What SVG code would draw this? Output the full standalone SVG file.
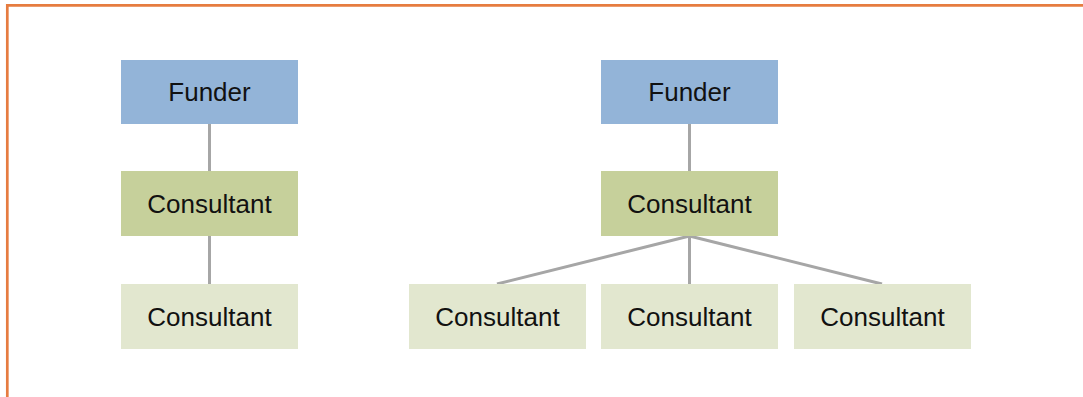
<svg xmlns="http://www.w3.org/2000/svg" width="1083" height="397" viewBox="0 0 1083 397">
  <style>
    .frame { stroke: #e67c40; stroke-width: 2.7; fill: none; }
    .link { stroke: #a6a6a6; stroke-width: 3; fill: none; }
    .funder { fill: #93b4d8; }
    .lead { fill: #c6d09b; }
    .sub { fill: #e2e7cf; }
    .label { font-family: "Liberation Sans", Arial, sans-serif; font-size: 26px; fill: #111; text-anchor: middle; }
  </style>
  <rect width="1083" height="397" fill="#ffffff"/>
  <!-- orange frame: top and left edges -->
  <path class="frame" d="M7.3 397 V5.3 H1083"/>

  <g id="connectors">
    <line class="link" x1="209.5" y1="124" x2="209.5" y2="171"/>
    <line class="link" x1="209.5" y1="236" x2="209.5" y2="284"/>
    <line class="link" x1="689.5" y1="124" x2="689.5" y2="171"/>
    <line class="link" x1="689.5" y1="236" x2="497" y2="284"/>
    <line class="link" x1="689.5" y1="236" x2="689.5" y2="284"/>
    <line class="link" x1="689.5" y1="236" x2="882" y2="284"/>
  </g>

  <!-- single chain -->
  <g id="funder-left">
    <rect class="funder" x="121" y="60" width="177" height="64"/>
    <text class="label" x="209.5" y="101">Funder</text>
  </g>
  <g id="consultant-left">
    <rect class="lead" x="121" y="171" width="177" height="65"/>
    <text class="label" x="209.5" y="213">Consultant</text>
  </g>
  <g id="subconsultant-left">
    <rect class="sub" x="121" y="284" width="177" height="65"/>
    <text class="label" x="209.5" y="326">Consultant</text>
  </g>

  <!-- lead consultant with three subconsultants -->
  <g id="funder-right">
    <rect class="funder" x="601" y="60" width="177" height="64"/>
    <text class="label" x="689.5" y="101">Funder</text>
  </g>
  <g id="consultant-right">
    <rect class="lead" x="601" y="171" width="177" height="65"/>
    <text class="label" x="689.5" y="213">Consultant</text>
  </g>
  <g id="subconsultant-1">
    <rect class="sub" x="409" y="284" width="177" height="65"/>
    <text class="label" x="497.5" y="326">Consultant</text>
  </g>
  <g id="subconsultant-2">
    <rect class="sub" x="601" y="284" width="177" height="65"/>
    <text class="label" x="689.5" y="326">Consultant</text>
  </g>
  <g id="subconsultant-3">
    <rect class="sub" x="794" y="284" width="177" height="65"/>
    <text class="label" x="882.5" y="326">Consultant</text>
  </g>
</svg>
